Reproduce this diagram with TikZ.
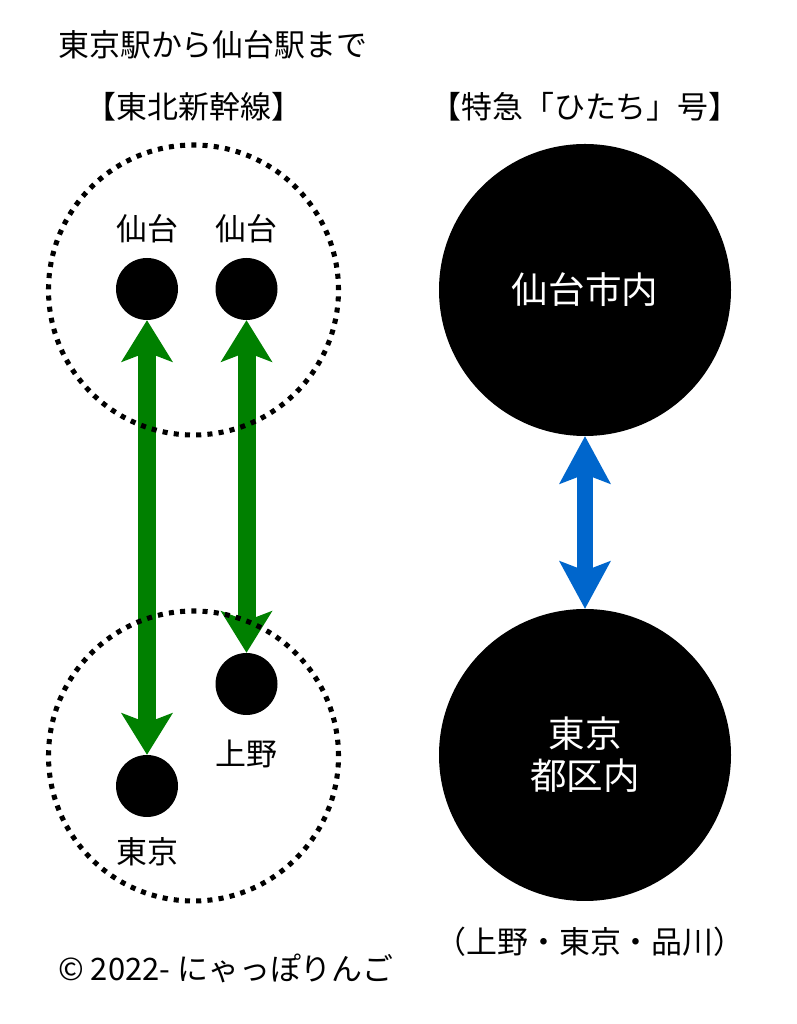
\documentclass[tikz,border=0pt]{standalone}
\usepackage{fontspec}
\setmainfont{Noto Sans CJK JP}
\usepackage{tikz}
\usetikzlibrary{arrows.meta}
\pgfdeclarelayer{bg}
\pgfsetlayers{bg,main}
\definecolor{jrgreen}{RGB}{0,128,0}
\definecolor{hitachiblue}{RGB}{0,102,204}
\tikzset{
    station/.style={circle, inner sep=0mm, fill=black, minimum size=1.55cm},
    area/.style={circle, inner sep=0mm, fill=black, minimum size=7.3cm, text=white, align=center, font=\fontsize{26pt}{30pt}\selectfont},
    group/.style={circle, inner sep=0mm, draw, line width=3.6pt, dash pattern=on 3.6pt off 4.4pt, minimum size=7.25cm},
    caption/.style={inner sep=0mm, font=\fontsize{22pt}{26pt}\selectfont}
}
\tikzset{every label/.style={shape=rectangle, draw=none, inner sep=0mm, font=\fontsize{22pt}{26pt}\selectfont}}
\tikzset{
    greenline/.style={draw=jrgreen, line width=12.8pt, >={Stealth[length=1.05cm, width=1.3cm, inset=0.25cm, line width=0pt]}, <->},
    blueline/.style={draw=hitachiblue, line width=12pt, >={Stealth[length=1.2cm, width=1.3cm, inset=0.25cm, line width=0pt]}, <->}
}

\begin{document}
\begin{tikzpicture}
        \useasboundingbox (0cm, 0cm) rectangle (19.925cm, 25.6cm);
        \node (title) [caption, anchor=west] at (1.450000cm, 24.475000cm) {東京駅から仙台駅まで};
        \node (shinkansen) [caption] at (4.850000cm, 22.925000cm) {【東北新幹線】};
        \node (hitachi) [caption] at (14.625000cm, 22.925000cm) {【特急「ひたち」号】};
        \node (g1) [group] at (4.837500cm, 18.350000cm) {};
        \node (g2) [group] at (4.837500cm, 6.700000cm) {};
        \node (s1) [station, label={[label distance=0.35cm]above:仙台}] at (3.675000cm, 18.375000cm) {};
        \node (s2) [station, label={[label distance=0.35cm]above:仙台}] at (6.162500cm, 18.375000cm) {};
        \node (u) [station, label={[label distance=0.6cm]below:上野}] at (6.162500cm, 8.500000cm) {};
        \node (t) [station, label={[label distance=0.5cm]below:東京}] at (3.675000cm, 5.950000cm) {};
        \node (a1) [area] at (14.625000cm, 18.350000cm) {仙台市内};
        \node (a2) [area] at (14.625000cm, 6.725000cm) {東京\\都区内};
        \node (stops) [caption] at (14.750000cm, 2.050000cm) {（上野・東京・品川）};
        \node (copy) [caption, anchor=west] at (1.450000cm, 1.400000cm) {© 2022- にゃっぽりんご};
        \begin{pgfonlayer}{bg}
                \draw [greenline] (t) -- (s1);
                \draw [greenline] (u) -- (s2);
                \draw [blueline] (a2) -- (a1);
        \end{pgfonlayer}
\end{tikzpicture}
\end{document}
